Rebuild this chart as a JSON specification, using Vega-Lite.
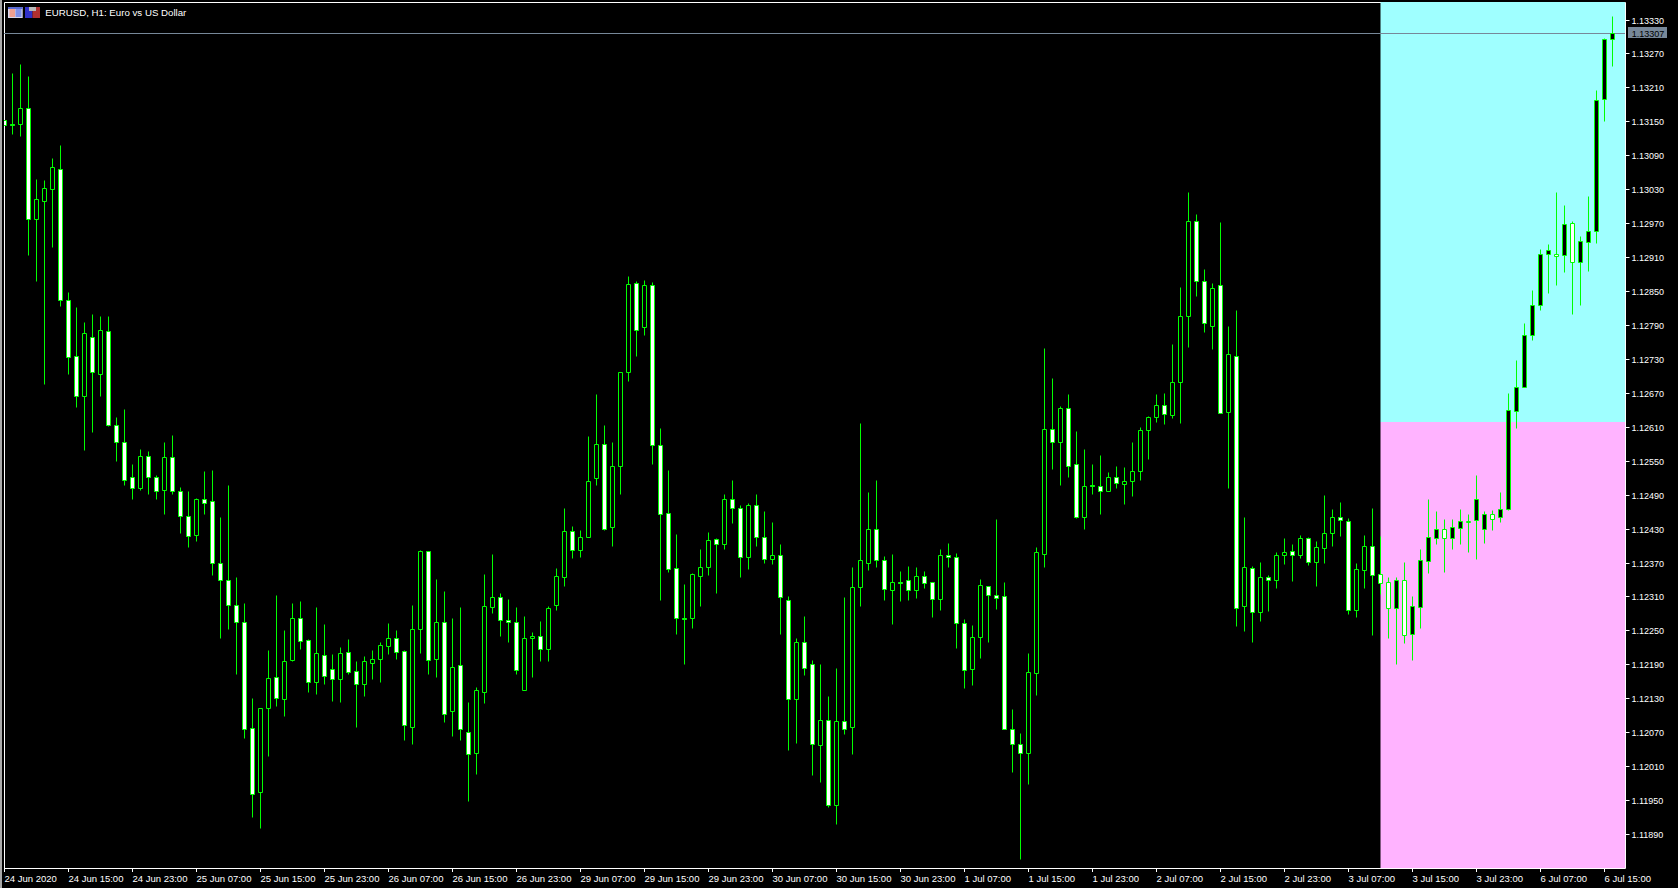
{"$schema":"https://vega.github.io/schema/vega-lite/v6.json","width":1621,"height":866,"autosize":{"type":"none"},"padding":{"left":4,"top":2,"right":53,"bottom":20},"background":"#000000","view":{"stroke":"#ffffff","strokeWidth":1},
"datasets":{
"boxes":[
{"part":"above","i":172,"i2":202.5625,"p":1.12619,"p2":1.13361},
{"part":"below","i":172,"i2":202.5625,"p":1.1183,"p2":1.12619},
{"part":"frame","i":-0.5625,"i2":-0.3125,"p":1.11795,"p2":1.13364},
{"part":"iconFrame","i":0.4375,"i2":2.275,"p":1.13332,"p2":1.13353},
{"part":"iconTop","i":0.4375,"i2":2.275,"p":1.13349,"p2":1.13353},
{"part":"iconPaleRed","i":0.625,"i2":1.3125,"p":1.13335,"p2":1.13348},
{"part":"iconPaleBlue","i":1.375,"i2":2.125,"p":1.13335,"p2":1.13348},
{"part":"iconBlue","i":2.5625,"i2":3.5,"p":1.13332,"p2":1.13352},
{"part":"iconRed","i":3.5,"i2":4.4375,"p":1.13332,"p2":1.13352},
{"part":"iconGrey","i":3.0625,"i2":3.9375,"p":1.13345,"p2":1.13352},
{"part":"tag","i":202.9375,"i2":207.8125,"p":1.13297,"p2":1.13316}
],
"candles":[
{"i":0,"o":1.13153,"h":1.13153,"l":1.13144,"c":1.13144},
{"i":1,"o":1.13146,"h":1.13235,"l":1.13127,"c":1.13144},
{"i":2,"o":1.13145,"h":1.13251,"l":1.13124,"c":1.13174},
{"i":3,"o":1.13174,"h":1.1323,"l":1.12914,"c":1.12978},
{"i":4,"o":1.12978,"h":1.13048,"l":1.12868,"c":1.13012},
{"i":5,"o":1.1301,"h":1.13046,"l":1.12686,"c":1.13033},
{"i":6,"o":1.1303,"h":1.13085,"l":1.12928,"c":1.1307},
{"i":7,"o":1.13066,"h":1.13109,"l":1.12824,"c":1.12834},
{"i":8,"o":1.12835,"h":1.12848,"l":1.12703,"c":1.12734},
{"i":9,"o":1.12735,"h":1.12821,"l":1.12645,"c":1.12665},
{"i":10,"o":1.12665,"h":1.12795,"l":1.12569,"c":1.12775},
{"i":11,"o":1.12768,"h":1.12809,"l":1.126,"c":1.12706},
{"i":12,"o":1.12704,"h":1.12806,"l":1.12664,"c":1.12782},
{"i":13,"o":1.1278,"h":1.12806,"l":1.12612,"c":1.12613},
{"i":14,"o":1.12614,"h":1.12627,"l":1.12549,"c":1.12583},
{"i":15,"o":1.12584,"h":1.12641,"l":1.12507,"c":1.12516},
{"i":16,"o":1.12522,"h":1.12545,"l":1.12482,"c":1.12502},
{"i":17,"o":1.12502,"h":1.1257,"l":1.12498,"c":1.12559},
{"i":18,"o":1.12559,"h":1.12567,"l":1.12492,"c":1.12521},
{"i":19,"o":1.12522,"h":1.12524,"l":1.12482,"c":1.12496},
{"i":20,"o":1.12498,"h":1.12584,"l":1.12455,"c":1.12557},
{"i":21,"o":1.12557,"h":1.12595,"l":1.12492,"c":1.12496},
{"i":22,"o":1.12497,"h":1.12503,"l":1.12423,"c":1.12452},
{"i":23,"o":1.12453,"h":1.12496,"l":1.12397,"c":1.12417},
{"i":24,"o":1.12419,"h":1.12485,"l":1.12408,"c":1.12483},
{"i":25,"o":1.12483,"h":1.12531,"l":1.12455,"c":1.12475},
{"i":26,"o":1.12478,"h":1.12533,"l":1.12348,"c":1.1237},
{"i":27,"o":1.1237,"h":1.1245,"l":1.12236,"c":1.12339},
{"i":28,"o":1.1234,"h":1.12507,"l":1.12252,"c":1.12295},
{"i":29,"o":1.12295,"h":1.12344,"l":1.12173,"c":1.12265},
{"i":30,"o":1.12265,"h":1.12299,"l":1.1206,"c":1.12076},
{"i":31,"o":1.12077,"h":1.1213,"l":1.1192,"c":1.11961},
{"i":32,"o":1.11964,"h":1.12113,"l":1.11901,"c":1.12112},
{"i":33,"o":1.12112,"h":1.12216,"l":1.12028,"c":1.12166},
{"i":34,"o":1.12167,"h":1.12312,"l":1.12116,"c":1.1213},
{"i":35,"o":1.12128,"h":1.12251,"l":1.12099,"c":1.12196},
{"i":36,"o":1.12197,"h":1.12299,"l":1.12196,"c":1.12272},
{"i":37,"o":1.12272,"h":1.12302,"l":1.12217,"c":1.12231},
{"i":38,"o":1.12233,"h":1.12235,"l":1.12141,"c":1.12159},
{"i":39,"o":1.12159,"h":1.12292,"l":1.12138,"c":1.1221},
{"i":40,"o":1.12206,"h":1.12262,"l":1.12156,"c":1.12169},
{"i":41,"o":1.12182,"h":1.12209,"l":1.12125,"c":1.12164},
{"i":42,"o":1.12164,"h":1.12221,"l":1.12123,"c":1.1221},
{"i":43,"o":1.12212,"h":1.12235,"l":1.12173,"c":1.12176},
{"i":44,"o":1.12178,"h":1.12196,"l":1.12079,"c":1.12156},
{"i":45,"o":1.12156,"h":1.12205,"l":1.12134,"c":1.12196},
{"i":46,"o":1.12192,"h":1.12216,"l":1.12164,"c":1.12199},
{"i":47,"o":1.12199,"h":1.1223,"l":1.12158,"c":1.12224},
{"i":48,"o":1.12222,"h":1.12263,"l":1.12209,"c":1.12236},
{"i":49,"o":1.12236,"h":1.12251,"l":1.122,"c":1.12211},
{"i":50,"o":1.12214,"h":1.12216,"l":1.12056,"c":1.12082},
{"i":51,"o":1.1208,"h":1.12295,"l":1.12049,"c":1.12252},
{"i":52,"o":1.12252,"h":1.12392,"l":1.1221,"c":1.1239},
{"i":53,"o":1.1239,"h":1.1239,"l":1.12173,"c":1.12197},
{"i":54,"o":1.12199,"h":1.12341,"l":1.12168,"c":1.12265},
{"i":55,"o":1.12265,"h":1.1232,"l":1.12088,"c":1.12103},
{"i":56,"o":1.12108,"h":1.12272,"l":1.12064,"c":1.12185},
{"i":57,"o":1.12189,"h":1.12292,"l":1.12056,"c":1.12075},
{"i":58,"o":1.1207,"h":1.12123,"l":1.11948,"c":1.12031},
{"i":59,"o":1.12034,"h":1.1215,"l":1.11996,"c":1.12144},
{"i":60,"o":1.12142,"h":1.12349,"l":1.12122,"c":1.12293},
{"i":61,"o":1.12291,"h":1.12385,"l":1.12281,"c":1.12309},
{"i":62,"o":1.12309,"h":1.12316,"l":1.1224,"c":1.12268},
{"i":63,"o":1.12268,"h":1.12305,"l":1.1223,"c":1.12265},
{"i":64,"o":1.12265,"h":1.12292,"l":1.12173,"c":1.1218},
{"i":65,"o":1.12145,"h":1.12276,"l":1.12145,"c":1.12236},
{"i":66,"o":1.12236,"h":1.12247,"l":1.12168,"c":1.12241},
{"i":67,"o":1.12241,"h":1.12267,"l":1.12196,"c":1.12218},
{"i":68,"o":1.12218,"h":1.12293,"l":1.12196,"c":1.12289},
{"i":69,"o":1.12295,"h":1.1236,"l":1.12286,"c":1.12346},
{"i":70,"o":1.12344,"h":1.12466,"l":1.12328,"c":1.12425},
{"i":71,"o":1.12425,"h":1.12434,"l":1.12378,"c":1.12393},
{"i":72,"o":1.12393,"h":1.12427,"l":1.1238,"c":1.12416},
{"i":73,"o":1.12415,"h":1.12593,"l":1.12415,"c":1.12515},
{"i":74,"o":1.1252,"h":1.12668,"l":1.12507,"c":1.12579},
{"i":75,"o":1.12579,"h":1.12613,"l":1.12427,"c":1.1243},
{"i":76,"o":1.12432,"h":1.12583,"l":1.124,"c":1.1254},
{"i":77,"o":1.1254,"h":1.12707,"l":1.12491,"c":1.12706},
{"i":78,"o":1.12706,"h":1.12877,"l":1.12691,"c":1.12862},
{"i":79,"o":1.12864,"h":1.12868,"l":1.12735,"c":1.12782},
{"i":80,"o":1.12787,"h":1.1287,"l":1.12772,"c":1.12861},
{"i":81,"o":1.12861,"h":1.12866,"l":1.12545,"c":1.12577},
{"i":82,"o":1.12577,"h":1.12608,"l":1.12303,"c":1.12455},
{"i":83,"o":1.12457,"h":1.12533,"l":1.12354,"c":1.12358},
{"i":84,"o":1.12361,"h":1.1242,"l":1.12244,"c":1.12272},
{"i":85,"o":1.12272,"h":1.12332,"l":1.1219,"c":1.1227},
{"i":86,"o":1.12272,"h":1.12351,"l":1.12254,"c":1.12349},
{"i":87,"o":1.12347,"h":1.12394,"l":1.12293,"c":1.12363},
{"i":88,"o":1.12363,"h":1.12424,"l":1.12348,"c":1.12409},
{"i":89,"o":1.12411,"h":1.12413,"l":1.12316,"c":1.12402},
{"i":90,"o":1.12403,"h":1.12491,"l":1.12394,"c":1.12483},
{"i":91,"o":1.12483,"h":1.12516,"l":1.1244,"c":1.12467},
{"i":92,"o":1.12467,"h":1.12471,"l":1.12344,"c":1.12379},
{"i":93,"o":1.12379,"h":1.12475,"l":1.12358,"c":1.12471},
{"i":94,"o":1.12471,"h":1.12492,"l":1.12399,"c":1.12416},
{"i":95,"o":1.12416,"h":1.12461,"l":1.12369,"c":1.12376},
{"i":96,"o":1.12376,"h":1.12441,"l":1.12367,"c":1.12384},
{"i":97,"o":1.12384,"h":1.12403,"l":1.12244,"c":1.12309},
{"i":98,"o":1.12303,"h":1.12311,"l":1.12038,"c":1.12128},
{"i":99,"o":1.12128,"h":1.12236,"l":1.12051,"c":1.12229},
{"i":100,"o":1.12229,"h":1.12276,"l":1.12171,"c":1.12183},
{"i":101,"o":1.1219,"h":1.12197,"l":1.11994,"c":1.12049},
{"i":102,"o":1.12047,"h":1.1219,"l":1.11982,"c":1.12091},
{"i":103,"o":1.12091,"h":1.12134,"l":1.11938,"c":1.11942},
{"i":104,"o":1.11942,"h":1.12184,"l":1.11908,"c":1.12089},
{"i":105,"o":1.12089,"h":1.12309,"l":1.12067,"c":1.12076},
{"i":106,"o":1.1208,"h":1.12362,"l":1.12031,"c":1.12326},
{"i":107,"o":1.12326,"h":1.12616,"l":1.12293,"c":1.12374},
{"i":108,"o":1.1237,"h":1.12494,"l":1.12357,"c":1.12429},
{"i":109,"o":1.1243,"h":1.12516,"l":1.12362,"c":1.12374},
{"i":110,"o":1.12374,"h":1.12381,"l":1.12304,"c":1.12324},
{"i":111,"o":1.12321,"h":1.12385,"l":1.12261,"c":1.12335},
{"i":112,"o":1.12335,"h":1.12355,"l":1.12302,"c":1.12334},
{"i":113,"o":1.1234,"h":1.12364,"l":1.12304,"c":1.12322},
{"i":114,"o":1.12321,"h":1.12362,"l":1.12307,"c":1.12347},
{"i":115,"o":1.12347,"h":1.12355,"l":1.12325,"c":1.12333},
{"i":116,"o":1.12335,"h":1.12335,"l":1.12274,"c":1.12305},
{"i":117,"o":1.12305,"h":1.12394,"l":1.12286,"c":1.12384},
{"i":118,"o":1.12384,"h":1.12404,"l":1.12362,"c":1.12379},
{"i":119,"o":1.12379,"h":1.12387,"l":1.12219,"c":1.12263},
{"i":120,"o":1.12264,"h":1.1227,"l":1.12148,"c":1.1218},
{"i":121,"o":1.12181,"h":1.12259,"l":1.12154,"c":1.12239},
{"i":122,"o":1.12238,"h":1.12341,"l":1.12201,"c":1.12331},
{"i":123,"o":1.12328,"h":1.12328,"l":1.1223,"c":1.12312},
{"i":124,"o":1.12312,"h":1.12447,"l":1.12288,"c":1.12308},
{"i":125,"o":1.1231,"h":1.12335,"l":1.12075,"c":1.12075},
{"i":126,"o":1.12075,"h":1.12111,"l":1.12,"c":1.1205},
{"i":127,"o":1.1205,"h":1.12069,"l":1.11846,"c":1.12034},
{"i":128,"o":1.12034,"h":1.1221,"l":1.11978,"c":1.12176},
{"i":129,"o":1.12174,"h":1.12397,"l":1.12136,"c":1.12388},
{"i":130,"o":1.12386,"h":1.12749,"l":1.12362,"c":1.12606},
{"i":131,"o":1.12606,"h":1.12696,"l":1.12535,"c":1.12583},
{"i":132,"o":1.12583,"h":1.12647,"l":1.12507,"c":1.12643},
{"i":133,"o":1.12643,"h":1.12668,"l":1.12521,"c":1.12541},
{"i":134,"o":1.12544,"h":1.12603,"l":1.12449,"c":1.12451},
{"i":135,"o":1.1245,"h":1.1257,"l":1.12429,"c":1.12506},
{"i":136,"o":1.12507,"h":1.12544,"l":1.12491,"c":1.12506},
{"i":137,"o":1.12506,"h":1.1256,"l":1.12455,"c":1.12496},
{"i":138,"o":1.12496,"h":1.1253,"l":1.12496,"c":1.12521},
{"i":139,"o":1.12521,"h":1.1254,"l":1.12501,"c":1.1251},
{"i":140,"o":1.12508,"h":1.12539,"l":1.12473,"c":1.12514},
{"i":141,"o":1.12515,"h":1.12584,"l":1.12487,"c":1.12531},
{"i":142,"o":1.12531,"h":1.12609,"l":1.12516,"c":1.12604},
{"i":143,"o":1.12604,"h":1.12629,"l":1.12553,"c":1.12628},
{"i":144,"o":1.12628,"h":1.12668,"l":1.12618,"c":1.12648},
{"i":145,"o":1.12648,"h":1.12669,"l":1.12615,"c":1.12633},
{"i":146,"o":1.12631,"h":1.12756,"l":1.12625,"c":1.1269},
{"i":147,"o":1.1269,"h":1.12857,"l":1.12616,"c":1.12805},
{"i":148,"o":1.12805,"h":1.13025,"l":1.12751,"c":1.12973},
{"i":149,"o":1.12973,"h":1.12986,"l":1.12841,"c":1.12867},
{"i":150,"o":1.12867,"h":1.12889,"l":1.12777,"c":1.12793},
{"i":151,"o":1.12789,"h":1.12864,"l":1.12747,"c":1.12856},
{"i":152,"o":1.1286,"h":1.12972,"l":1.12635,"c":1.12635},
{"i":153,"o":1.12636,"h":1.12788,"l":1.12502,"c":1.12738},
{"i":154,"o":1.12735,"h":1.12816,"l":1.12258,"c":1.1229},
{"i":155,"o":1.12294,"h":1.1245,"l":1.12249,"c":1.12363},
{"i":156,"o":1.12361,"h":1.12364,"l":1.1223,"c":1.12283},
{"i":157,"o":1.12283,"h":1.12371,"l":1.12267,"c":1.12344},
{"i":158,"o":1.12344,"h":1.12348,"l":1.12284,"c":1.12339},
{"i":159,"o":1.12339,"h":1.12388,"l":1.12325,"c":1.12384},
{"i":160,"o":1.12384,"h":1.12413,"l":1.12367,"c":1.12388},
{"i":161,"o":1.12391,"h":1.12403,"l":1.12337,"c":1.12384},
{"i":162,"o":1.12384,"h":1.12418,"l":1.12378,"c":1.12413},
{"i":163,"o":1.12414,"h":1.12415,"l":1.12365,"c":1.12371},
{"i":164,"o":1.12371,"h":1.12408,"l":1.12328,"c":1.12397},
{"i":165,"o":1.12396,"h":1.12489,"l":1.12369,"c":1.12423},
{"i":166,"o":1.12423,"h":1.12464,"l":1.12399,"c":1.1245},
{"i":167,"o":1.1245,"h":1.12477,"l":1.12417,"c":1.12445},
{"i":168,"o":1.12444,"h":1.12448,"l":1.12279,"c":1.12287},
{"i":169,"o":1.12287,"h":1.12369,"l":1.12274,"c":1.12358},
{"i":170,"o":1.12356,"h":1.12418,"l":1.12325,"c":1.124},
{"i":171,"o":1.124,"h":1.12466,"l":1.12242,"c":1.12348},
{"i":172,"o":1.12349,"h":1.12417,"l":1.12314,"c":1.12333},
{"i":173,"o":1.12335,"h":1.12344,"l":1.12236,"c":1.1229},
{"i":174,"o":1.1229,"h":1.12344,"l":1.1219,"c":1.1234},
{"i":175,"o":1.1234,"h":1.12371,"l":1.12228,"c":1.12242},
{"i":176,"o":1.12244,"h":1.12311,"l":1.12198,"c":1.12293},
{"i":177,"o":1.12292,"h":1.12394,"l":1.12254,"c":1.12374},
{"i":178,"o":1.12373,"h":1.12482,"l":1.12351,"c":1.12416},
{"i":179,"o":1.12414,"h":1.12461,"l":1.12403,"c":1.1243},
{"i":180,"o":1.12429,"h":1.12447,"l":1.12353,"c":1.12414},
{"i":181,"o":1.12414,"h":1.12447,"l":1.12394,"c":1.12432},
{"i":182,"o":1.12431,"h":1.12464,"l":1.12403,"c":1.12443},
{"i":183,"o":1.12443,"h":1.12456,"l":1.12389,"c":1.12442},
{"i":184,"o":1.12445,"h":1.12524,"l":1.12376,"c":1.12482},
{"i":185,"o":1.1243,"h":1.12461,"l":1.12404,"c":1.12455},
{"i":186,"o":1.12455,"h":1.12463,"l":1.12427,"c":1.12447},
{"i":187,"o":1.12451,"h":1.12495,"l":1.12442,"c":1.12464},
{"i":188,"o":1.12465,"h":1.12669,"l":1.12463,"c":1.12639},
{"i":189,"o":1.12638,"h":1.12728,"l":1.12608,"c":1.12681},
{"i":190,"o":1.12681,"h":1.12793,"l":1.1268,"c":1.12773},
{"i":191,"o":1.12773,"h":1.12851,"l":1.12763,"c":1.12826},
{"i":192,"o":1.12826,"h":1.12924,"l":1.12816,"c":1.12916},
{"i":193,"o":1.12916,"h":1.12933,"l":1.12846,"c":1.12922},
{"i":194,"o":1.12916,"h":1.13025,"l":1.1286,"c":1.12912},
{"i":195,"o":1.12914,"h":1.13002,"l":1.12883,"c":1.12969},
{"i":196,"o":1.12971,"h":1.12973,"l":1.12809,"c":1.12901},
{"i":197,"o":1.12901,"h":1.12947,"l":1.12825,"c":1.12939},
{"i":198,"o":1.12937,"h":1.13018,"l":1.12885,"c":1.12957},
{"i":199,"o":1.12956,"h":1.13205,"l":1.12935,"c":1.13187},
{"i":200,"o":1.1319,"h":1.13297,"l":1.1315,"c":1.13295},
{"i":201,"o":1.13295,"h":1.13336,"l":1.13247,"c":1.13307}
]},
"config":{"axis":{"title":null,"grid":false,"domain":false,"tickColor":"#ffffff","tickSize":4,"labelColor":"#ffffff","labelFont":"Liberation Sans","labelBound":false,"labelFlush":false,"labelOverlap":false}},
"layer":[
{"data":{"name":"boxes"},"mark":{"type":"rect"},"encoding":{
"x":{"field":"i","type":"quantitative","scale":{"domain":[-0.0625,202.5625],"padding":0},"axis":{"title":null,"values":[0,8,16,24,32,40,48,56,64,72,80,88,96,104,112,120,128,136,144,152,160,168,176,184,192,200],"labelExpr":"['24 Jun 2020','24 Jun 15:00','24 Jun 23:00','25 Jun 07:00','25 Jun 15:00','25 Jun 23:00','26 Jun 07:00','26 Jun 15:00','26 Jun 23:00','29 Jun 07:00','29 Jun 15:00','29 Jun 23:00','30 Jun 07:00','30 Jun 15:00','30 Jun 23:00','1 Jul 07:00','1 Jul 15:00','1 Jul 23:00','2 Jul 07:00','2 Jul 15:00','2 Jul 23:00','3 Jul 07:00','3 Jul 15:00','3 Jul 23:00','6 Jul 07:00','6 Jul 15:00'][datum.value/8]","tickCount":60,"tickRound":false,"translate":0,"labelFontSize":9.5,"labelAlign":"left","labelBaseline":"top","labelPadding":2,"labelAngle":0,"labelOverlap":false}},
"x2":{"field":"i2"},
"y":{"field":"p","type":"quantitative","scale":{"domain":[1.1183,1.13361],"round":true,"nice":false,"zero":false},"axis":{"title":null,"orient":"right","values":[1.1189,1.1195,1.1201,1.1207,1.1213,1.1219,1.1225,1.1231,1.1237,1.1243,1.1249,1.1255,1.1261,1.1267,1.1273,1.1279,1.1285,1.1291,1.1297,1.1303,1.1309,1.1315,1.1321,1.1327,1.1333],"tickCount":60,"format":".5f","labelFontSize":9,"labelPadding":2,"labelOverlap":false,"labelSeparation":0}},
"y2":{"field":"p2"},
"color":{"field":"part","type":"nominal","legend":null,"scale":{"domain":["above","below","frame","iconFrame","iconTop","iconPaleRed","iconPaleBlue","iconBlue","iconRed","iconGrey","tag"],"range":["#9fffff","#ffb3ff","#a8a8a8","#d8d8ee","#5a6ad0","#f0a090","#8090e8","#3030c8","#b03030","#b8b8b8","#778899"]}}}},
{"data":{"values":[{"close":1.13307}]},"mark":{"type":"rule","stroke":"#778899","strokeWidth":1,"yOffset":0.5},"encoding":{"y":{"field":"close","type":"quantitative","axis":{"title":null,"orient":"right"},"scale":{"domain":[1.1183,1.13361],"round":true,"nice":false,"zero":false}}}},
{"data":{"name":"candles"},"mark":{"type":"rule","stroke":"#00ff00","strokeWidth":1,"clip":true,"yOffset":0.5,"y2Offset":0.5},"encoding":{
"x":{"field":"i","type":"quantitative","axis":{"title":null},"scale":{"domain":[-0.0625,202.5625],"padding":0}},
"y":{"field":"h","type":"quantitative","axis":{"title":null,"orient":"right"},"scale":{"domain":[1.1183,1.13361],"round":true,"nice":false,"zero":false}},
"y2":{"field":"l"}}},
{"data":{"name":"candles"},"mark":{"type":"bar","size":4,"stroke":"#00ff00","strokeWidth":1,"clip":true,"yOffset":0.5,"y2Offset":0.5},"encoding":{
"x":{"field":"i","type":"quantitative","axis":{"title":null},"scale":{"domain":[-0.0625,202.5625],"padding":0}},
"y":{"field":"o","type":"quantitative","axis":{"title":null,"orient":"right"},"scale":{"domain":[1.1183,1.13361],"round":true,"nice":false,"zero":false}},
"y2":{"field":"c"},
"fill":{"condition":{"test":"datum.c >= datum.o","value":"#000000"},"value":"#ffffff"}}},
{"data":{"values":[{"i":203.4,"p":1.13307,"label":"1.13307"}]},"mark":{"type":"text","align":"left","baseline":"middle","font":"Liberation Sans","fontSize":9,"color":"#000000","dy":1},"encoding":{
"x":{"field":"i","type":"quantitative","axis":{"title":null},"scale":{"domain":[-0.0625,202.5625],"padding":0}},
"y":{"field":"p","type":"quantitative","axis":{"title":null,"orient":"right"},"scale":{"domain":[1.1183,1.13361],"round":true,"nice":false,"zero":false}},
"text":{"field":"label"}}},
{"data":{"values":[{"i":5.1,"p":1.13342,"label":"EURUSD, H1:  Euro vs US Dollar"}]},"mark":{"type":"text","align":"left","baseline":"middle","font":"Liberation Sans","fontSize":9.7,"color":"#ffffff"},"encoding":{
"x":{"field":"i","type":"quantitative","axis":{"title":null},"scale":{"domain":[-0.0625,202.5625],"padding":0}},
"y":{"field":"p","type":"quantitative","axis":{"title":null,"orient":"right"},"scale":{"domain":[1.1183,1.13361],"round":true,"nice":false,"zero":false}},
"text":{"field":"label"}}}
]}
